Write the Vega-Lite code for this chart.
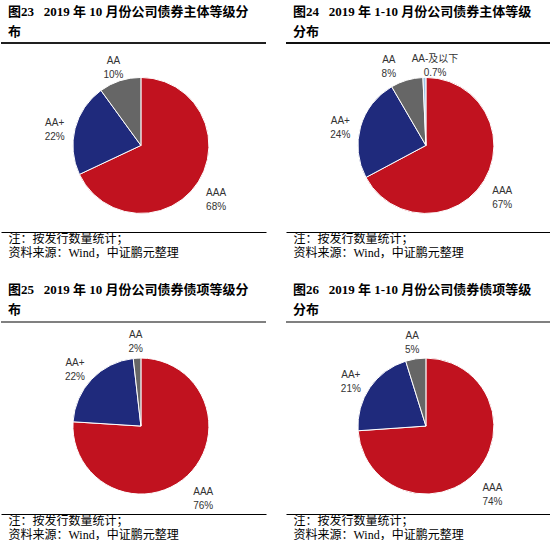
{
  "$schema": "https://vega.github.io/schema/vega-lite/v6.json",
  "background": "white",
  "padding": {"left": 0, "top": 5, "right": 0, "bottom": 0},
  "config": {
    "view": {"stroke": null},
    "title": {
      "font": "Liberation Serif, Noto Sans CJK SC",
      "fontSize": 13,
      "fontWeight": "bold",
      "color": "#000",
      "anchor": "start",
      "frame": "group",
      "lineHeight": 20,
      "offset": 4,
      "dx": 7
    },
    "axisX": {
      "grid": false,
      "ticks": false,
      "labels": false,
      "domain": true,
      "domainColor": "#000",
      "domainWidth": 1,
      "titleFont": "Liberation Serif, Noto Sans CJK SC",
      "titleFontSize": 12,
      "titleFontWeight": "normal",
      "titleColor": "#000",
      "titleAnchor": "start",
      "titleAlign": "left",
      "titleBaseline": "top",
      "titleLineHeight": 14,
      "titlePadding": 1,
      "titleX": 7
    },
    "text": {"font": "Liberation Sans, Noto Sans CJK SC", "fontSize": 10, "fill": "#333", "lineHeight": 14, "baseline": "middle", "align": "center"}
  },
  "datasets": {
    "p23": [
      {"grade": "AAA", "v": 68, "idx": 1, "label": "AAA\n68%"},
      {"grade": "AA+", "v": 22, "idx": 2, "label": "AA+\n22%"},
      {"grade": "AA", "v": 10, "idx": 3, "label": "AA\n10%"}
    ],
    "p24": [
      {"grade": "AAA", "v": 67.2, "idx": 1, "label": "AAA\n67%"},
      {"grade": "AA+", "v": 24.4, "idx": 2, "label": "AA+\n24%"},
      {"grade": "AA", "v": 7.7, "idx": 3, "label": "AA\n8%"},
      {"grade": "AA-及以下", "v": 0.7, "idx": 4, "label": "AA-及以下\n0.7%"}
    ],
    "p25": [
      {"grade": "AAA", "v": 76, "idx": 1, "label": "AAA\n76%"},
      {"grade": "AA+", "v": 22.2, "idx": 2, "label": "AA+\n22%"},
      {"grade": "AA", "v": 1.8, "idx": 3, "label": "AA\n2%"}
    ],
    "p26": [
      {"grade": "AAA", "v": 73.9, "idx": 1, "label": "AAA\n74%"},
      {"grade": "AA+", "v": 21.3, "idx": 2, "label": "AA+\n21%"},
      {"grade": "AA", "v": 4.8, "idx": 3, "label": "AA\n5%"}
    ]
  },
  "spacing": 26,
  "vconcat": [
    {
      "spacing": 18,
      "hconcat": [
        {
          "width": 265,
          "height": 189,
          "title": {"text": ["图23\u00a0\u00a0\u00a02019 年 10 月份公司债券主体等级分", "布"]},
          "data": {"name": "p23"},
          "layer": [
            {
              "mark": {"type": "rule", "color": "#000", "strokeWidth": 1},
              "encoding": {"y": {"datum": 1, "type": "quantitative", "scale": {"domain": [0, 1]}, "axis": null}}
            },
            {
              "mark": {"type": "arc", "outerRadius": 68, "stroke": "white", "strokeWidth": 1},
              "encoding": {
                "x": {"datum": 0.528, "type": "quantitative", "scale": {"domain": [0, 1]}, "axis": {"title": ["注：按发行数量统计；", "资料来源：Wind，中证鹏元整理"]}},
                "y": {"datum": 0.458, "type": "quantitative", "scale": {"domain": [0, 1]}, "axis": null},
                "theta": {"field": "v", "type": "quantitative", "stack": true},
                "order": {"field": "idx"},
                "color": {"field": "grade", "type": "nominal", "legend": null, "scale": {"domain": ["AAA", "AA+", "AA", "AA-及以下"], "range": ["#C1121F", "#1F2A7C", "#666666", "#9DC3E6"]}}
              }
            },
            {
              "mark": {"type": "text", "radius": 89, "lineBreak": "\n"},
              "encoding": {
                "x": {"datum": 0.528, "type": "quantitative", "scale": {"domain": [0, 1]}, "axis": {"title": ["注：按发行数量统计；", "资料来源：Wind，中证鹏元整理"]}},
                "y": {"datum": 0.458, "type": "quantitative", "scale": {"domain": [0, 1]}, "axis": null},
                "theta": {"field": "v", "type": "quantitative", "stack": true},
                "order": {"field": "idx"},
                "detail": {"field": "grade"},
                "text": {"field": "label"}
              }
            }
          ]
        },
        {
          "width": 265,
          "height": 189,
          "title": {"text": ["图24\u00a0\u00a0\u00a02019 年 1-10 月份公司债券主体等级", "分布"]},
          "data": {"name": "p24"},
          "layer": [
            {
              "mark": {"type": "rule", "color": "#000", "strokeWidth": 1},
              "encoding": {"y": {"datum": 1, "type": "quantitative", "scale": {"domain": [0, 1]}, "axis": null}}
            },
            {
              "mark": {"type": "arc", "outerRadius": 68, "stroke": "white", "strokeWidth": 1},
              "encoding": {
                "x": {"datum": 0.528, "type": "quantitative", "scale": {"domain": [0, 1]}, "axis": {"title": ["注：按发行数量统计；", "资料来源：Wind，中证鹏元整理"]}},
                "y": {"datum": 0.458, "type": "quantitative", "scale": {"domain": [0, 1]}, "axis": null},
                "theta": {"field": "v", "type": "quantitative", "stack": true},
                "order": {"field": "idx"},
                "color": {"field": "grade", "type": "nominal", "legend": null, "scale": {"domain": ["AAA", "AA+", "AA", "AA-及以下"], "range": ["#C1121F", "#1F2A7C", "#666666", "#9DC3E6"]}}
              }
            },
            {
              "mark": {"type": "text", "radius": 89, "lineBreak": "\n"},
              "encoding": {
                "x": {"datum": 0.528, "type": "quantitative", "scale": {"domain": [0, 1]}, "axis": {"title": ["注：按发行数量统计；", "资料来源：Wind，中证鹏元整理"]}},
                "y": {"datum": 0.458, "type": "quantitative", "scale": {"domain": [0, 1]}, "axis": null},
                "theta": {"field": "v", "type": "quantitative", "stack": true},
                "order": {"field": "idx"},
                "detail": {"field": "grade"},
                "text": {"condition": {"test": "datum.idx <= 2", "field": "label"}, "value": ""}
              }
            },
            {
              "mark": {"type": "text", "radius": 89, "lineBreak": "\n", "dx": -12},
              "encoding": {
                "x": {"datum": 0.528, "type": "quantitative", "scale": {"domain": [0, 1]}, "axis": {"title": ["注：按发行数量统计；", "资料来源：Wind，中证鹏元整理"]}},
                "y": {"datum": 0.458, "type": "quantitative", "scale": {"domain": [0, 1]}, "axis": null},
                "theta": {"field": "v", "type": "quantitative", "stack": true},
                "order": {"field": "idx"},
                "detail": {"field": "grade"},
                "text": {"condition": {"test": "datum.idx == 3", "field": "label"}, "value": ""}
              }
            },
            {
              "mark": {"type": "text", "radius": 86, "lineBreak": "\n", "dx": 11},
              "encoding": {
                "x": {"datum": 0.528, "type": "quantitative", "scale": {"domain": [0, 1]}, "axis": {"title": ["注：按发行数量统计；", "资料来源：Wind，中证鹏元整理"]}},
                "y": {"datum": 0.458, "type": "quantitative", "scale": {"domain": [0, 1]}, "axis": null},
                "theta": {"field": "v", "type": "quantitative", "stack": true},
                "order": {"field": "idx"},
                "detail": {"field": "grade"},
                "text": {"condition": {"test": "datum.idx == 4", "field": "label"}, "value": ""}
              }
            }
          ]
        }
      ]
    },
    {
      "spacing": 18,
      "hconcat": [
        {
          "width": 265,
          "height": 192,
          "title": {"text": ["图25\u00a0\u00a0\u00a02019 年 10 月份公司债券债项等级分", "布"]},
          "data": {"name": "p25"},
          "layer": [
            {
              "mark": {"type": "rule", "color": "#808080", "strokeWidth": 2},
              "encoding": {"y": {"datum": 1, "type": "quantitative", "scale": {"domain": [0, 1]}, "axis": null}}
            },
            {
              "mark": {"type": "arc", "outerRadius": 68, "stroke": "white", "strokeWidth": 1},
              "encoding": {
                "x": {"datum": 0.528, "type": "quantitative", "scale": {"domain": [0, 1]}, "axis": {"title": ["注：按发行数量统计；", "资料来源：Wind，中证鹏元整理"]}},
                "y": {"datum": 0.458, "type": "quantitative", "scale": {"domain": [0, 1]}, "axis": null},
                "theta": {"field": "v", "type": "quantitative", "stack": true},
                "order": {"field": "idx"},
                "color": {"field": "grade", "type": "nominal", "legend": null, "scale": {"domain": ["AAA", "AA+", "AA", "AA-及以下"], "range": ["#C1121F", "#1F2A7C", "#666666", "#9DC3E6"]}}
              }
            },
            {
              "mark": {"type": "text", "radius": 91, "lineBreak": "\n"},
              "encoding": {
                "x": {"datum": 0.528, "type": "quantitative", "scale": {"domain": [0, 1]}, "axis": {"title": ["注：按发行数量统计；", "资料来源：Wind，中证鹏元整理"]}},
                "y": {"datum": 0.458, "type": "quantitative", "scale": {"domain": [0, 1]}, "axis": null},
                "theta": {"field": "v", "type": "quantitative", "stack": true},
                "order": {"field": "idx"},
                "detail": {"field": "grade"},
                "text": {"field": "label"}
              }
            }
          ]
        },
        {
          "width": 265,
          "height": 192,
          "title": {"text": ["图26\u00a0\u00a0\u00a02019 年 1-10 月份公司债券债项等级", "分布"]},
          "data": {"name": "p26"},
          "layer": [
            {
              "mark": {"type": "rule", "color": "#808080", "strokeWidth": 2},
              "encoding": {"y": {"datum": 1, "type": "quantitative", "scale": {"domain": [0, 1]}, "axis": null}}
            },
            {
              "mark": {"type": "arc", "outerRadius": 68, "stroke": "white", "strokeWidth": 1},
              "encoding": {
                "x": {"datum": 0.528, "type": "quantitative", "scale": {"domain": [0, 1]}, "axis": {"title": ["注：按发行数量统计；", "资料来源：Wind，中证鹏元整理"]}},
                "y": {"datum": 0.458, "type": "quantitative", "scale": {"domain": [0, 1]}, "axis": null},
                "theta": {"field": "v", "type": "quantitative", "stack": true},
                "order": {"field": "idx"},
                "color": {"field": "grade", "type": "nominal", "legend": null, "scale": {"domain": ["AAA", "AA+", "AA", "AA-及以下"], "range": ["#C1121F", "#1F2A7C", "#666666", "#9DC3E6"]}}
              }
            },
            {
              "mark": {"type": "text", "radius": 91, "lineBreak": "\n"},
              "encoding": {
                "x": {"datum": 0.528, "type": "quantitative", "scale": {"domain": [0, 1]}, "axis": {"title": ["注：按发行数量统计；", "资料来源：Wind，中证鹏元整理"]}},
                "y": {"datum": 0.458, "type": "quantitative", "scale": {"domain": [0, 1]}, "axis": null},
                "theta": {"field": "v", "type": "quantitative", "stack": true},
                "order": {"field": "idx"},
                "detail": {"field": "grade"},
                "text": {"field": "label"}
              }
            }
          ]
        }
      ]
    }
  ]
}
